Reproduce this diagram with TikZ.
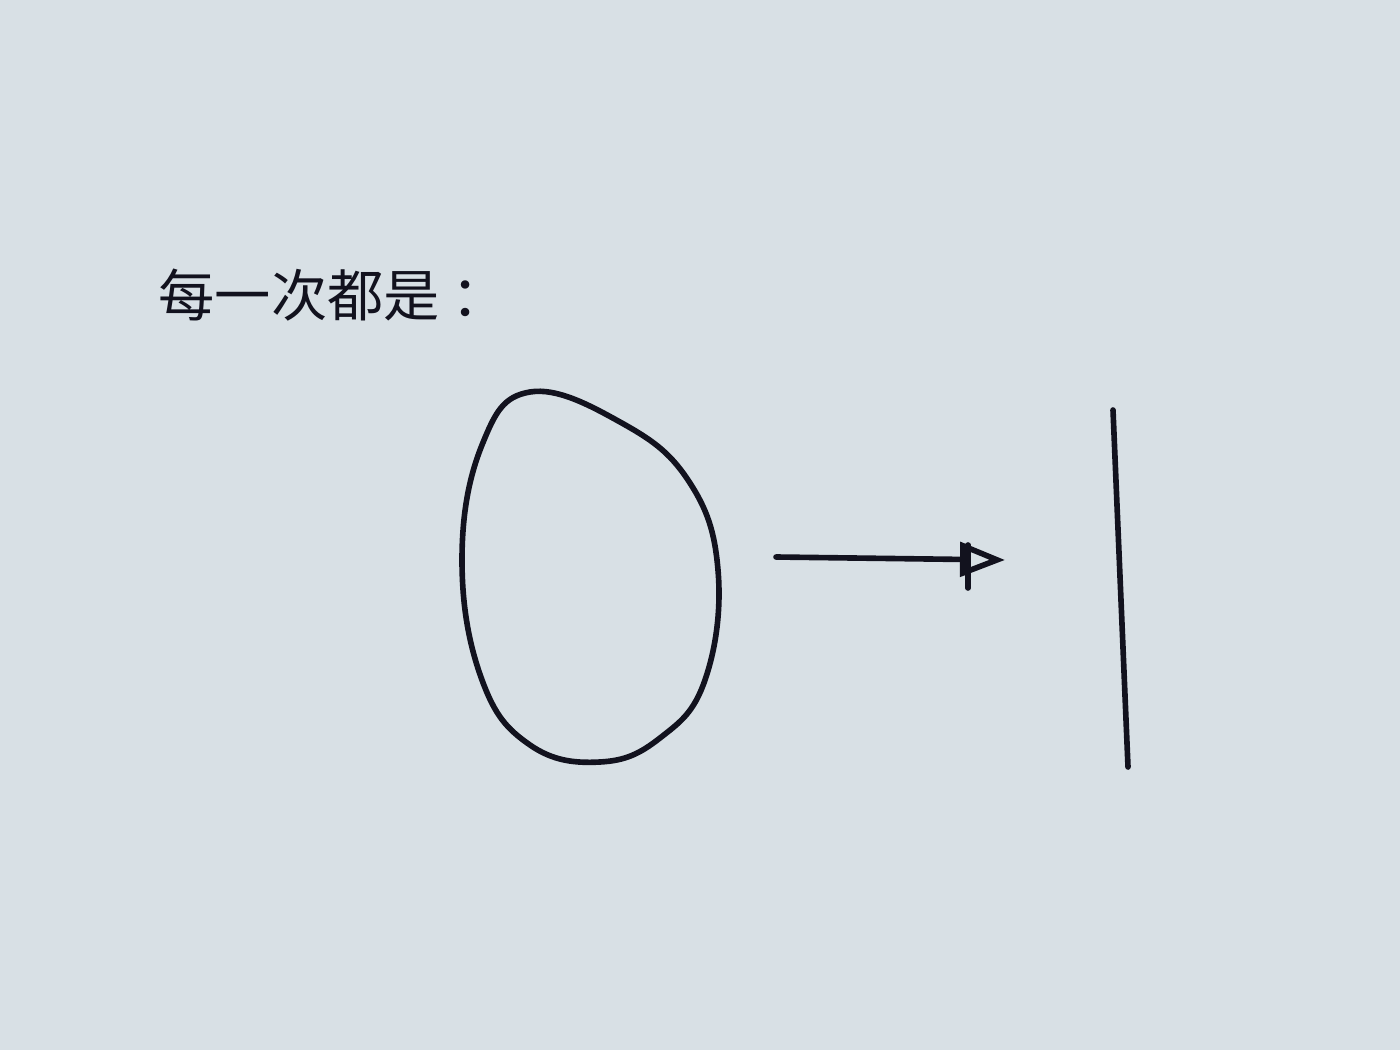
\documentclass[tikz,border=0pt]{standalone}
\usepackage{fontspec}
\newfontfamily\cjk{Noto Sans CJK SC}
\usetikzlibrary{arrows.meta, positioning}

\definecolor{paper}{RGB}{216,224,229}
\definecolor{ink}{RGB}{18,18,30}

\begin{document}
\begin{tikzpicture}[
    x=1cm, y=1cm,
    pen/.style={draw=ink, line width=1.6pt, line cap=round, line join=round},
    myarrow/.style={pen, -{Triangle[open, length=4.5mm, width=3.4mm, line width=1.6pt]}},
    caption/.style={text=ink, font=\cjk\fontsize{16pt}{19pt}\selectfont, inner sep=0pt, anchor=west},
]

% paper
\fill[paper] (0,0) rectangle (14,10.5);
\useasboundingbox (0,0) rectangle (14,10.5);

% heading
\node[caption] (title) at (1.58,7.55) {每一次都是\hspace{0.2em}：};

% egg
\draw[pen] plot[smooth cycle, tension=0.7] coordinates {
    (5.30,6.58) (6.20,6.28) (6.88,5.70) (7.18,4.80) (7.05,3.70)
    (6.60,3.12) (6.00,2.88) (5.30,3.05) (4.82,3.70) (4.62,4.90)
    (4.82,6.05)};

% arrow
\coordinate (from) at (7.76,4.93);
\coordinate (to) at (10.05,4.90);
\draw[myarrow] (from) -- (to);
\coordinate (tickt) at (9.68,5.05);
\coordinate (tickb) at (9.68,4.62);
\draw[pen] (tickt) -- (tickb);

% wall
\coordinate (walltop) at (11.13,6.40);
\coordinate (wallbot) at (11.28,2.83);
\draw[pen] (walltop) -- (wallbot);

\end{tikzpicture}
\end{document}
